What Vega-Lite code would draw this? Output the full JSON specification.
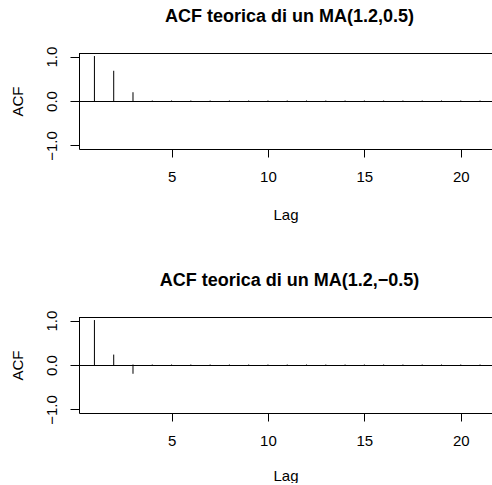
{
  "$schema": "https://vega.github.io/schema/vega-lite/v6.json",
  "background": "white",
  "padding": {"left": 10, "top": 8, "right": 0, "bottom": 0},
  "spacing": 50,
  "config": {
    "view": {"stroke": null},
    "font": "Liberation Sans",
    "title": {"font": "Liberation Sans", "fontSize": 18, "fontWeight": "bold", "color": "black", "anchor": "middle", "frame": "group", "baseline": "alphabetic", "offset": 20, "dx": 4},
    "axis": {"labelFont": "Liberation Sans", "titleFont": "Liberation Sans", "labelFontSize": 15, "titleFontSize": 15, "titleFontWeight": "normal", "labelColor": "black", "titleColor": "black", "domainColor": "black", "tickColor": "black", "grid": false, "domainWidth": 1, "tickWidth": 1}
  },
  "datasets": {
    "a": [
      {"lag": 1, "acf": 1.0}, {"lag": 2, "acf": 0.669}, {"lag": 3, "acf": 0.186}, {"lag": 4, "acf": 0}, {"lag": 5, "acf": 0}, {"lag": 6, "acf": 0}, {"lag": 7, "acf": 0}, {"lag": 8, "acf": 0}, {"lag": 9, "acf": 0}, {"lag": 10, "acf": 0}, {"lag": 11, "acf": 0}, {"lag": 12, "acf": 0}, {"lag": 13, "acf": 0}, {"lag": 14, "acf": 0}, {"lag": 15, "acf": 0}, {"lag": 16, "acf": 0}, {"lag": 17, "acf": 0}, {"lag": 18, "acf": 0}, {"lag": 19, "acf": 0}, {"lag": 20, "acf": 0}, {"lag": 21, "acf": 0}
    ],
    "b": [
      {"lag": 1, "acf": 1.0}, {"lag": 2, "acf": 0.223}, {"lag": 3, "acf": -0.186}, {"lag": 4, "acf": 0}, {"lag": 5, "acf": 0}, {"lag": 6, "acf": 0}, {"lag": 7, "acf": 0}, {"lag": 8, "acf": 0}, {"lag": 9, "acf": 0}, {"lag": 10, "acf": 0}, {"lag": 11, "acf": 0}, {"lag": 12, "acf": 0}, {"lag": 13, "acf": 0}, {"lag": 14, "acf": 0}, {"lag": 15, "acf": 0}, {"lag": 16, "acf": 0}, {"lag": 17, "acf": 0}, {"lag": 18, "acf": 0}, {"lag": 19, "acf": 0}, {"lag": 20, "acf": 0}, {"lag": 21, "acf": 0}
    ]
  },
  "vconcat": [
    {
      "title": "ACF teorica di un MA(1.2,0.5)",
      "width": 413,
      "height": 96,
      "data": {"name": "a"},
      "layer": [
        {
          "mark": {"type": "rule", "color": "black", "strokeWidth": 1, "strokeCap": "square"},
          "encoding": {
            "x": {"field": "lag", "type": "quantitative", "scale": {"domain": [0.2, 21.62], "nice": false, "zero": false},
              "axis": {"values": [5, 10, 15, 20], "format": "d", "title": "Lag", "tickSize": 8, "labelPadding": 12, "labelBaseline": "top", "titleY": 70, "titleBaseline": "alphabetic", "labelFlush": false}},
            "y": {"field": "acf", "type": "quantitative", "scale": {"domain": [-1.08, 1.08], "nice": false, "zero": false},
              "axis": {"values": [-1, -0.5, 0, 0.5, 1], "title": "ACF", "tickSize": 9, "labelAngle": -90, "labelAlign": "center", "labelBaseline": "alphabetic", "labelPadding": 14, "labelFlush": false,
                "labelExpr": "(datum.value == 0.5 || datum.value == -0.5) ? '' : replace(format(datum.value, '.1f'), '-', '\u2212')",
                "titleX": -57, "titleY": 48, "titleAngle": -90, "titleAlign": "center", "titleBaseline": "alphabetic"}},
            "y2": {"datum": 0}
          }
        },
        {"mark": {"type": "rule", "color": "black", "strokeWidth": 1, "yOffset": 0.5}, "encoding": {"y": {"datum": 0}}},
        {"mark": {"type": "rule", "color": "black", "strokeWidth": 1, "yOffset": 0.5}, "encoding": {"y": {"datum": 1.08}}}
      ]
    },
    {
      "title": "ACF teorica di un MA(1.2,\u22120.5)",
      "width": 413,
      "height": 96,
      "data": {"name": "b"},
      "layer": [
        {
          "mark": {"type": "rule", "color": "black", "strokeWidth": 1, "strokeCap": "square"},
          "encoding": {
            "x": {"field": "lag", "type": "quantitative", "scale": {"domain": [0.2, 21.62], "nice": false, "zero": false},
              "axis": {"values": [5, 10, 15, 20], "format": "d", "title": "Lag", "tickSize": 8, "labelPadding": 12, "labelBaseline": "top", "titleY": 67, "titleBaseline": "alphabetic", "labelFlush": false}},
            "y": {"field": "acf", "type": "quantitative", "scale": {"domain": [-1.08, 1.08], "nice": false, "zero": false},
              "axis": {"values": [-1, -0.5, 0, 0.5, 1], "title": "ACF", "tickSize": 9, "labelAngle": -90, "labelAlign": "center", "labelBaseline": "alphabetic", "labelPadding": 14, "labelFlush": false,
                "labelExpr": "(datum.value == 0.5 || datum.value == -0.5) ? '' : replace(format(datum.value, '.1f'), '-', '\u2212')",
                "titleX": -57, "titleY": 48, "titleAngle": -90, "titleAlign": "center", "titleBaseline": "alphabetic"}},
            "y2": {"datum": 0}
          }
        },
        {"mark": {"type": "rule", "color": "black", "strokeWidth": 1, "yOffset": 0.5}, "encoding": {"y": {"datum": 0}}},
        {"mark": {"type": "rule", "color": "black", "strokeWidth": 1, "yOffset": 0.5}, "encoding": {"y": {"datum": 1.08}}}
      ]
    }
  ]
}
